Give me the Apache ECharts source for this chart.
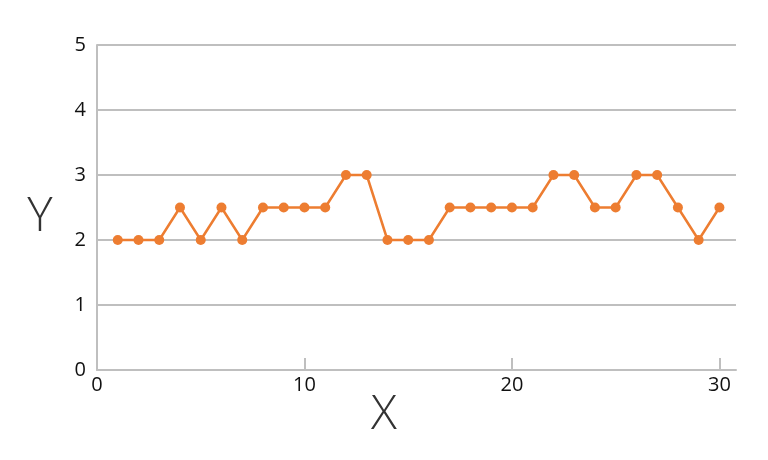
<!DOCTYPE html>
<html><head><meta charset="utf-8">
<script src="https://cdn.jsdelivr.net/npm/echarts@6/dist/echarts.min.js"></script>
<style>html,body{margin:0;padding:0;background:#fff}#c{width:768px;height:460px}</style>
</head><body><div id="c"></div>
<script>
const xValues = [1,2,3,4,5,6,7,8,9,10,11,12,13,14,15,16,17,18,19,20,21,22,23,24,25,26,27,28,29,30];
const yValues = [2,2,2,2.5,2,2.5,2,2.5,2.5,2.5,2.5,3,3,2,2,2,2.5,2.5,2.5,2.5,2.5,3,3,2.5,2.5,3,3,2.5,2,2.5];
const xTicks = [0,10,20,30];
const xTitle = 'X';
const yTitle = 'Y';

const chart = echarts.init(document.getElementById('c'), null, {renderer:'canvas'});
const font = '"Open Sans", "Noto Sans", sans-serif';
chart.setOption({
  animation:false,
  backgroundColor:'#fff',
  grid:{left:97,right:32,top:45,bottom:90,containLabel:false},
  xAxis:{type:'value',min:0,max:30.8,interval:10,
    axisLine:{show:true,lineStyle:{color:'#bfbfbf',width:2}},
    axisTick:{show:true,inside:true,length:12,customValues:xTicks,lineStyle:{color:'#bfbfbf',width:2}},
    axisLabel:{customValues:xTicks,fontSize:20,color:'#111',fontFamily:font,margin:5},
    splitLine:{show:false}},
  yAxis:{type:'value',min:0,max:5,interval:1,
    axisLine:{show:true,lineStyle:{color:'#bfbfbf',width:2}},
    axisTick:{show:false},
    axisLabel:{fontSize:20,color:'#111',fontFamily:font,margin:11},
    splitLine:{show:true,lineStyle:{color:'#bfbfbf',width:2}}},
  graphic:[
    {type:'text',x:384,y:415,style:{text:xTitle,font:'300 48px '+font,fill:'#333',textAlign:'center',textVerticalAlign:'middle'}},
    {type:'text',x:40,y:217,style:{text:yTitle,font:'300 48px '+font,fill:'#333',textAlign:'center',textVerticalAlign:'middle'}}
  ],
  series:[{type:'line',data:xValues.map((x,i)=>[x,yValues[i]]),
    symbol:'circle',symbolSize:10,
    lineStyle:{color:'#ED7D31',width:2.5},
    itemStyle:{color:'#ED7D31'}}]
});
</script></body></html>
